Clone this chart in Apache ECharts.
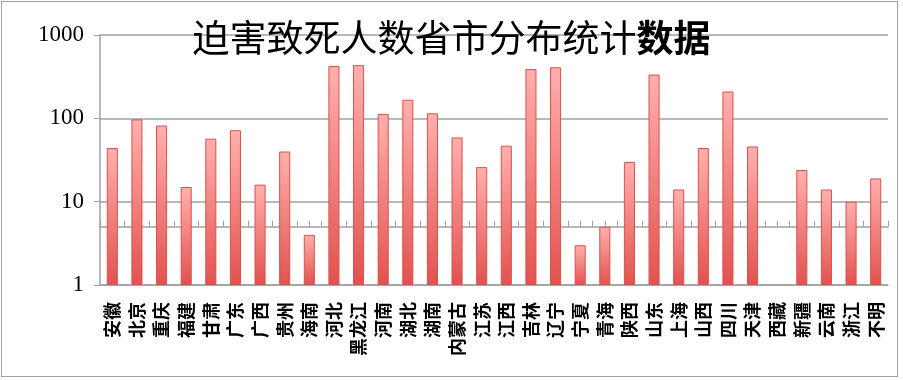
<!DOCTYPE html>
<html>
<head>
<meta charset="utf-8">
<script src="https://cdn.jsdelivr.net/npm/echarts@6/dist/echarts.min.js"></script>
<style>
html,body{margin:0;padding:0;background:#fff;}
#wrap{position:relative;width:903px;height:380px;}
#chart{position:absolute;left:0;top:0;width:903px;height:380px;}
#frame{position:absolute;left:1px;top:1px;width:895px;height:374px;border:1px solid #a0a0a0;pointer-events:none;}
</style>
</head>
<body>
<div id="wrap"><div id="chart"></div><div id="frame"></div></div>
<script>
const categories = ['安徽','北京','重庆','福建','甘肃','广东','广西','贵州','海南','河北','黑龙江','河南','湖北','湖南','内蒙古','江苏','江西','吉林','辽宁','宁夏','青海','陕西','山东','上海','山西','四川','天津','西藏','新疆','云南','浙江','不明'];
const deaths = [44,97,82,15,57,72,16,40,4,425,435,113,167,115,59,26,47,390,410,3,5,30,335,14,44,210,46,null,24,14,10,19];
const titleMain = '迫害致死人数省市分布统计';
const titleBold = '数据';
const crossValue = 5;
const yMin = 1, yMax = 1000;

const gridTop = 35, gridBottom = 95, gridH = 380 - gridTop - gridBottom;
const crossOffset = -gridH * (Math.log10(crossValue) - Math.log10(yMin)) / (Math.log10(yMax) - Math.log10(yMin));

const chart = echarts.init(document.getElementById('chart'), null, {renderer:'canvas'});
chart.setOption({
  animation: false,
  backgroundColor: 'transparent',
  title: {
    text: '{n|' + titleMain + '}{b|' + titleBold + '}',
    left: 'center',
    top: 14,
    textStyle: {
      rich: {
        n: {fontFamily: 'Noto Sans CJK SC', fontSize: 37, fontWeight: 'normal', color: '#000'},
        b: {fontFamily: 'Noto Sans CJK SC', fontSize: 37, fontWeight: 'bold', color: '#000'}
      }
    }
  },
  grid: {left: 100, right: 15, top: gridTop, bottom: gridBottom, containLabel: false},
  xAxis: [{
    type: 'category',
    data: categories,
    axisLine: {show: true, lineStyle: {color: '#a0a0a0', width: 1.5}},
    axisTick: {show: false},
    axisLabel: {
      rotate: 90,
      interval: 0,
      margin: 17,
      fontFamily: 'Noto Sans CJK SC',
      fontWeight: 'bold',
      fontSize: 18,
      color: '#000'
    }
  }, {
    type: 'value',
    min: 0,
    max: categories.length,
    interval: 0.5,
    position: 'bottom',
    offset: crossOffset,
    axisLine: {show: true, lineStyle: {color: '#a0a0a0', width: 1.5}},
    axisTick: {show: true, inside: true, length: 6, lineStyle: {color: '#a0a0a0', width: 1}},
    axisLabel: {show: false},
    splitLine: {show: false}
  }],
  yAxis: {
    type: 'log',
    logBase: 10,
    min: yMin,
    max: yMax,
    axisLine: {show: true, lineStyle: {color: '#a0a0a0', width: 1.5}},
    axisTick: {show: true, inside: false, length: 6, lineStyle: {color: '#a0a0a0'}},
    splitLine: {show: true, lineStyle: {color: '#a0a0a0', width: 1.5}},
    minorTick: {show: false},
    axisLabel: {
      margin: 16,
      fontFamily: 'Liberation Serif',
      fontSize: 23,
      color: '#000',
      formatter: function (v) { return String(Math.round(v)); }
    }
  },
  series: [{
    type: 'bar',
    xAxisIndex: 0,
    data: deaths,
    barWidth: '45%',
    z: 3,
    itemStyle: {
      color: new echarts.graphic.LinearGradient(0, 0, 0, 1, [
        {offset: 0, color: '#ffb0ae'},
        {offset: 1, color: '#e2524e'}
      ]),
      borderColor: '#d8524f',
      borderWidth: 1
    }
  }]
});
</script>
</body>
</html>
